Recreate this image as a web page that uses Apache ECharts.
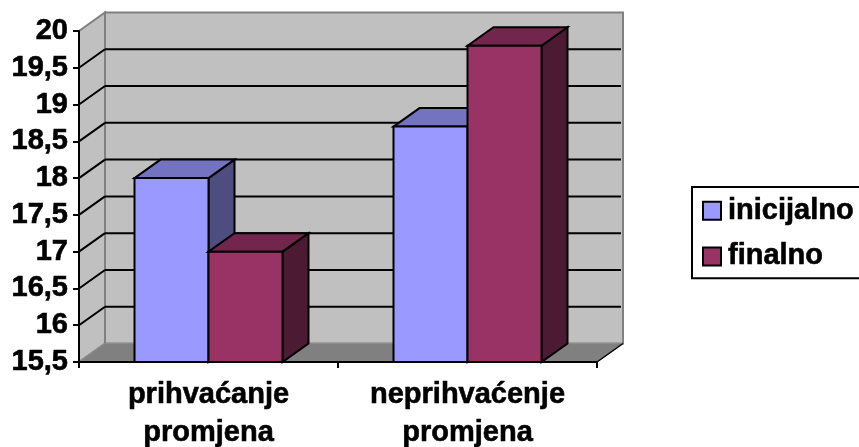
<!DOCTYPE html>
<html><head><meta charset="utf-8">
<style>html,body{margin:0;padding:0;background:#fff}#c{width:859px;height:447px}</style>
<script src="https://cdn.jsdelivr.net/npm/echarts@6/dist/echarts.min.js"></script>
</head><body><div id="c"></div>
<script>
const categories = ['prihvaćanje\npromjena', 'neprihvaćenje\npromjena'];
const inicijalno = [18, 18.7];
const finalno = [17, 19.8];
const gridTicks = [16, 16.5, 17, 17.5, 18, 18.5, 19, 19.5];
const yMin = 15.5, yMax = 20, yStep = 0.5;
const DX = 26, DY = -18.5;
const FONT = '"Liberation Sans", Arial, sans-serif';
const BOLD = { fontFamily: FONT, fontWeight: 'bold', fontSize: 29, color: '#000', textBorderColor: '#000', textBorderWidth: 0.6 };

function poly(points, fill, stroke, lw) {
  return { type: 'polygon', shape: { points }, style: { fill, stroke: stroke || null, lineWidth: lw || 0, lineJoin: 'miter' } };
}
function seg(x1, y1, x2, y2, stroke, lw) {
  return { type: 'line', shape: { x1, y1, x2, y2 }, style: { stroke, lineWidth: lw } };
}
function wallItem(params, api) {
  const r = params.coordSys;
  const l = r.x, rr = r.x + r.width, b = r.y + r.height, t = r.y;
  return { type: 'group', children: [
    poly([[l + DX, t + DY], [rr + DX, t + DY], [rr + DX, b + DY], [l + DX, b + DY]], '#C0C0C0', '#808080', 2),
    poly([[l, b], [l, t], [l + DX, t + DY], [l + DX, b + DY]], '#C0C0C0', '#808080', 2),
    poly([[l, b], [rr, b], [rr + DX, b + DY], [l + DX, b + DY]], '#808080', '#8C8C8C', 1),
    seg(rr, b, rr + DX, b + DY, '#000', 1.5)
  ] };
}
function gridItem(params, api) {
  const r = params.coordSys;
  const y = api.coord([0, api.value(1)])[1];
  const l = r.x, rr = r.x + r.width;
  return { type: 'group', children: [
    seg(l, y, l + DX, y + DY, '#000', 2),
    seg(l + DX, y + DY, rr + DX - 2, y + DY, '#000', 2)
  ] };
}
function barRenderer(slot, front, top, side) {
  return function (params, api) {
    const c = api.coord([api.value(0), api.value(1)]);
    const base = api.coord([api.value(0), yMin]);
    const w = api.size([1, 0])[0] * 0.2857;
    const x0 = c[0] + slot * w, x1 = x0 + w, y = c[1], b = base[1];
    return { type: 'group', children: [
      poly([[x1, y], [x1 + DX, y + DY], [x1 + DX, b + DY], [x1, b]], side, '#000', 2),
      poly([[x0, y], [x0 + DX, y + DY], [x1 + DX, y + DY], [x1, y]], top, '#000', 2),
      poly([[x0, y], [x1, y], [x1, b], [x0, b]], front, '#000', 2)
    ] };
  };
}
const chart = echarts.init(document.getElementById('c'), null, { renderer: 'canvas' });
chart.setOption({
  animation: false,
  backgroundColor: '#fff',
  textStyle: { fontFamily: FONT },
  grid: { left: 79, top: 31, width: 518, height: 331, containLabel: false, outerBoundsMode: 'none' },
  legend: {
    left: 692, top: 187, orient: 'vertical', data: ['inicijalno', 'finalno'],
    icon: 'rect', itemWidth: 18, itemHeight: 18, itemGap: 16,
    padding: [9, 14, 7, 10], borderColor: '#000', borderWidth: 2, backgroundColor: '#fff',
    itemStyle: { borderColor: '#000', borderWidth: 2 },
    textStyle: Object.assign({ padding: [0, 0, 0, 2] }, BOLD),
    selectedMode: false
  },
  xAxis: {
    type: 'category', data: categories, boundaryGap: true,
    axisLine: { lineStyle: { color: '#000', width: 2 } },
    axisTick: { show: true, length: 6, lineStyle: { color: '#000', width: 2 } },
    axisLabel: Object.assign({ interval: 0, lineHeight: 38, margin: 14 }, BOLD),
    z: 10
  },
  yAxis: {
    type: 'value', min: yMin, max: yMax, interval: yStep,
    axisLine: { show: true, lineStyle: { color: '#000', width: 2 } },
    axisTick: { show: true, length: 6, lineStyle: { color: '#000', width: 2 } },
    splitLine: { show: false },
    axisLabel: Object.assign({ margin: 11, padding: [3, 0, 0, 0], formatter: v => String(v).replace('.', ',') }, BOLD),
    z: 10
  },
  series: [
    { type: 'custom', name: 'wall', silent: true, z: 1, clip: false, renderItem: wallItem, data: [[0, yMin]] },
    { type: 'custom', name: 'grid', silent: true, z: 2, clip: false, renderItem: gridItem, data: gridTicks.map(v => [0, v]) },
    { type: 'custom', name: 'inicijalno', z: 3, clip: false, itemStyle: { color: '#9999FF' },
      renderItem: barRenderer(-1, '#9999FF', '#7373BF', '#4D4D80'), data: inicijalno.map((v, i) => [i, v]) },
    { type: 'custom', name: 'finalno', z: 4, clip: false, itemStyle: { color: '#993366' },
      renderItem: barRenderer(0, '#993366', '#73264D', '#4D1A33'), data: finalno.map((v, i) => [i, v]) }
  ]
});
</script></body></html>
